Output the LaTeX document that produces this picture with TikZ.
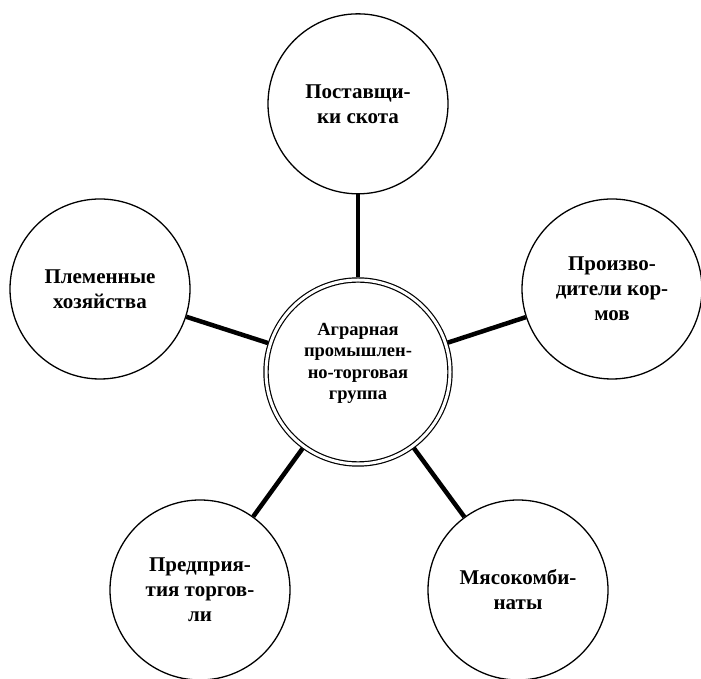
\documentclass[tikz,border=0pt]{standalone}
\usepackage{fontspec}
\setmainfont{Liberation Serif}[BoldFont={Liberation Serif Bold}]
\usetikzlibrary{positioning}

\begin{document}
\begin{tikzpicture}[
            x = 1pt, y = 1pt, % work in points
            leaf/.style = {circle, draw, line width=1.3pt, minimum size=180pt,
                           inner sep=0pt, align=center, font=\fontsize{21}{25}\selectfont\bfseries},
            hub/.style = {circle, draw, line width=1.2pt, double, double distance=3pt,
                          minimum size=184pt, inner sep=0pt, outer sep=2.5pt,
                          align=center, font=\fontsize{18.5}{21.5}\selectfont\bfseries},
            link/.style = {line width=4.5pt} % thick connector
        ]

	\useasboundingbox (0,0) rectangle (701,679);

	\node[hub] (agro) at (358,307) {Аграрная\\промышлен-\\но-торговая\\группа\\\mbox{}};

	\node[leaf] (supply) [above=83pt of agro] {Поставщи-\\ки скота};
	\node[leaf] (breed) at ([shift={(-258,83)}]agro.center) {Племенные\\хозяйства};
	\node[leaf] (feed) at ([shift={(254,83)}]agro.center) {Произво-\\дители кор-\\мов};
	\node[leaf] (trade) at ([shift={(-158,-218)}]agro.center) {Предприя-\\тия торгов-\\ли};
	\node[leaf] (meat) at ([shift={(160,-218)}]agro.center) {Мясокомби-\\наты};

	\draw[link] (agro) -- (supply);
	\draw[link] (agro) -- (breed);
	\draw[link] (agro) -- (feed);
	\draw[link] (agro) -- (trade);
	\draw[link] (agro) -- (meat);

\end{tikzpicture}
\end{document}
